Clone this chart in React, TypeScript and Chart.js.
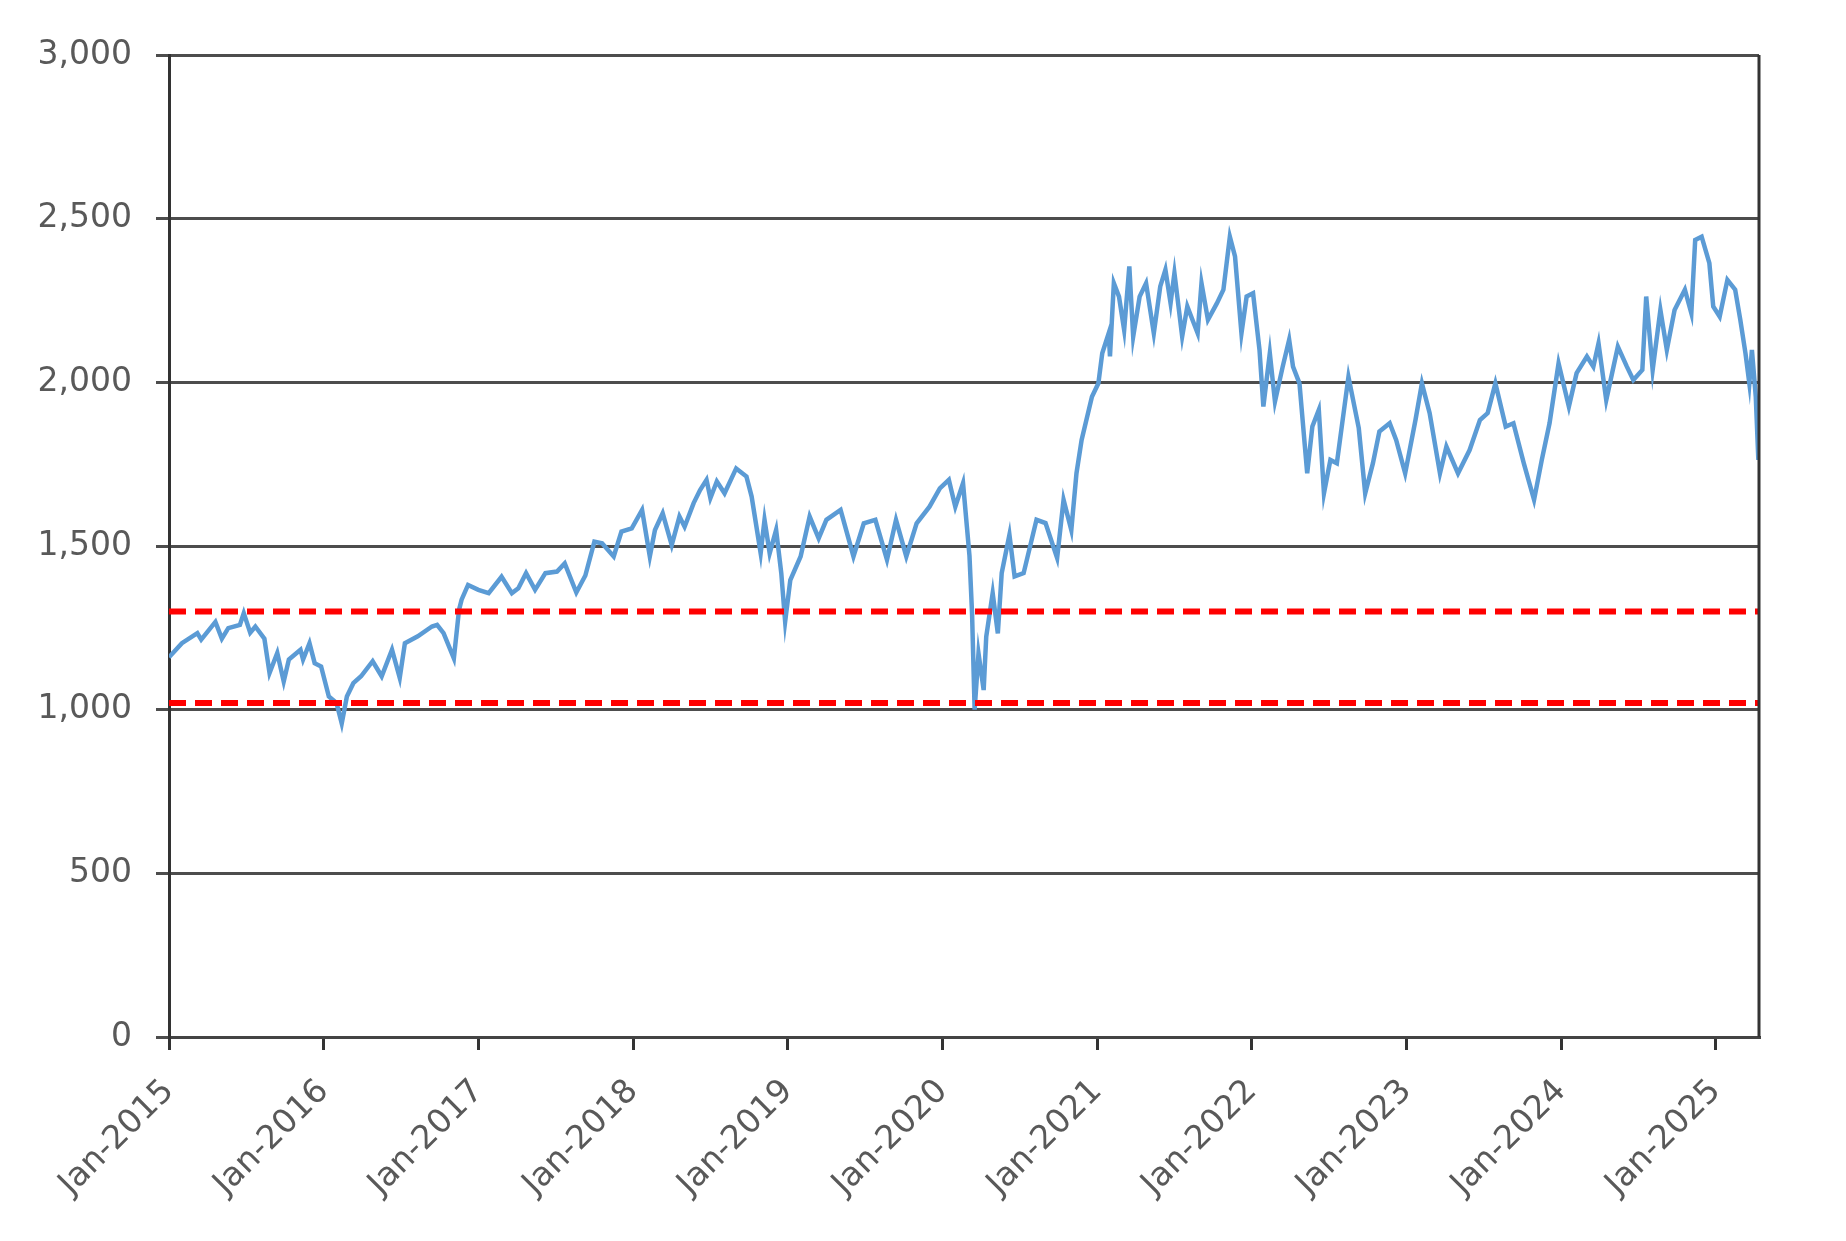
import React, { useEffect, useRef } from 'react';
import { Chart, registerables } from 'chart.js';

Chart.register(...registerables);

// months since Jan-2015
const monthOffsets = [
  0.0, 1.0, 2.2, 2.5, 3.6, 4.1, 4.6, 5.5, 5.8, 6.3, 6.7, 7.4, 7.8, 8.4, 8.9, 9.3,
  10.2, 10.4, 10.9, 11.3, 11.8, 12.4, 13.0, 13.4, 13.8, 14.3, 14.9, 15.8, 16.5,
  17.3, 17.9, 18.3, 19.3, 20.4, 20.8, 21.3, 22.1, 22.5, 22.7, 23.2, 24.0, 24.8,
  25.8, 26.6, 27.1, 27.7, 28.4, 29.2, 30.1, 30.7, 31.6, 32.3, 33.0, 33.6, 34.5,
  35.1, 35.9, 36.7, 37.3, 37.7, 38.3, 39.0, 39.6, 40.0, 40.7, 41.2, 41.7, 42.0,
  42.5, 43.1, 44.0, 44.8, 45.2, 45.9, 46.2, 46.6, 47.1, 47.5, 47.8, 48.2, 49.0,
  49.7, 50.4, 51.0, 52.1, 53.1, 53.9, 54.8, 55.7, 56.4, 57.2, 58.0, 59.0, 59.8,
  60.5, 61.0, 61.6, 61.9, 62.1, 62.3, 62.5, 62.8, 63.2, 63.4, 63.9, 64.3, 64.6,
  65.2, 65.6, 66.3, 67.3, 68.0, 68.9, 69.4, 70.0, 70.4, 70.8, 71.6, 72.1, 72.4,
  72.9, 73.0, 73.3, 73.7, 74.1, 74.5, 74.8, 75.3, 75.8, 76.4, 76.9, 77.3, 77.7,
  78.0, 78.6, 79.0, 79.8, 80.1, 80.6, 81.3, 81.8, 82.3, 82.7, 83.2, 83.6, 84.1,
  84.6, 84.9, 85.4, 85.8, 86.4, 86.9, 87.2, 87.7, 88.3, 88.7, 89.2, 89.6, 90.1,
  90.6, 91.5, 92.3, 92.8, 93.4, 93.9, 94.7, 95.2, 95.9, 96.7, 97.2, 97.8, 98.6,
  99.1, 100.0, 100.9, 101.7, 102.3, 102.9, 103.7, 104.3, 105.1, 105.9, 106.5,
  107.1, 107.8, 108.6, 109.2, 110.0, 110.5, 110.9, 111.5, 112.4, 113.1, 113.6,
  114.3, 114.6, 115.1, 115.7, 116.2, 116.8, 117.6, 118.1, 118.4, 118.9, 119.5,
  119.8, 120.3, 120.9, 121.5, 121.9, 122.3, 122.6, 122.8, 123.1, 123.3,
];

const indexValues = [
  1160, 1203, 1234, 1214, 1268, 1217, 1249, 1259, 1295, 1235, 1254, 1217, 1112, 1173, 1086, 1153,
  1183, 1153, 1203, 1142, 1132, 1040, 1020, 958, 1040, 1081, 1102, 1148, 1102,
  1183, 1097, 1203, 1224, 1254, 1259, 1234, 1157, 1305, 1336, 1381, 1366, 1356,
  1406, 1356, 1371, 1417, 1366, 1417, 1422, 1447, 1358, 1410, 1513, 1508, 1468,
  1544, 1554, 1610, 1468, 1549, 1600, 1503, 1590, 1559, 1631, 1671, 1702, 1646,
  1697, 1661, 1737, 1712, 1651, 1478, 1580, 1478, 1549, 1417, 1269, 1396, 1468,
  1590, 1523, 1580, 1610, 1468, 1569, 1580, 1458, 1580, 1468, 1569, 1620, 1676,
  1702, 1620, 1692, 1559, 1470, 1294, 1000, 1172, 1060, 1223, 1356, 1233, 1417,
  1534, 1407, 1417, 1580, 1570, 1463, 1641, 1549, 1722, 1824, 1956, 1997, 2089,
  2150, 2079, 2303, 2262, 2160, 2354, 2140, 2262, 2303, 2150, 2293, 2344, 2242,
  2334, 2140, 2232, 2150, 2303, 2191, 2242, 2283, 2445, 2385, 2150, 2262, 2272,
  2099, 1926, 2089, 1941, 2048, 2130, 2048, 1997, 1722, 1865, 1916, 1661, 1763,
  1753, 2017, 1860, 1661, 1753, 1850, 1875, 1824, 1722, 1885, 1997, 1906, 1722,
  1804, 1722, 1793, 1885, 1906, 1997, 1865, 1875, 1753, 1641, 1763,
  1875, 2058, 1926, 2028, 2079, 2048, 2119, 1946, 2109, 2048, 2007,
  2038, 2262, 2038, 2221, 2099, 2221, 2283, 2211, 2435, 2445, 2364,
  2232, 2201, 2313, 2283, 2191, 2089, 1997, 2099, 1956, 1763,
];

const upperBand = 1300;
const lowerBand = 1020;
const xStart = 0;
const xEnd = 123.35;
const yearTicks = [0, 12, 24, 36, 48, 60, 72, 84, 96, 108, 120];
const firstYear = 2015;
const yMax = 3000;
const yStep = 500;

const labelFont = { family: '"DejaVu Sans", sans-serif', size: 33 };

const rightEdge = {
  id: 'rightEdge',
  afterDraw(chart: any) {
    const { ctx, chartArea } = chart;
    ctx.save();
    ctx.strokeStyle = '#333';
    ctx.lineWidth = 3;
    ctx.beginPath();
    ctx.moveTo(chartArea.right, chartArea.top);
    ctx.lineTo(chartArea.right, chartArea.bottom);
    ctx.stroke();
    ctx.restore();
  },
};

export default function App() {
  const canvasRef = useRef<HTMLCanvasElement | null>(null);

  useEffect(() => {
    if (!canvasRef.current) return;
    const series = monthOffsets.map((m, i) => ({ x: m, y: indexValues[i] }));
    const chart = new Chart(canvasRef.current, {
      type: 'line',
      data: {
        datasets: [
          {
            data: [{ x: xStart, y: upperBand }, { x: xEnd, y: upperBand }],
            borderColor: '#FF0000',
            borderWidth: 6,
            borderDash: [17, 9],
            pointRadius: 0,
            order: 0,
          },
          {
            data: [{ x: xStart, y: lowerBand }, { x: xEnd, y: lowerBand }],
            borderColor: '#FF0000',
            borderWidth: 6,
            borderDash: [17, 9],
            pointRadius: 0,
            order: 0,
          },
          {
            data: series,
            borderColor: '#5B9BD5',
            borderWidth: 4.5,
            pointRadius: 0,
            tension: 0,
            order: 1,
          },
        ],
      },
      options: {
        animation: false,
        responsive: true,
        maintainAspectRatio: false,
        layout: { padding: { top: 47, right: 79, bottom: 0, left: 0 } },
        plugins: { legend: { display: false }, tooltip: { enabled: false } },
        scales: {
          x: {
            type: 'linear',
            min: xStart,
            max: xEnd,
            afterBuildTicks: (scale: any) => {
              scale.ticks = yearTicks.map((v) => ({ value: v }));
            },
            afterFit: (scale: any) => {
              scale.height = 195;
            },
            ticks: {
              autoSkip: false,
              maxRotation: 45,
              minRotation: 45,
              padding: 22,
              color: '#595959',
              font: labelFont,
              callback: (v: any) => 'Jan-' + (firstYear + Math.round(Number(v) / 12)),
            },
            grid: {
              drawOnChartArea: false,
              drawTicks: true,
              tickLength: 13,
              tickColor: '#333',
              lineWidth: 3,
            },
            border: { color: '#444', width: 3 },
          },
          y: {
            min: 0,
            max: yMax,
            afterFit: (scale: any) => {
              scale.width = 161;
            },
            ticks: {
              stepSize: yStep,
              padding: 24,
              color: '#595959',
              font: labelFont,
              callback: (v: any) => Number(v).toLocaleString('en-US'),
            },
            grid: {
              color: '#4d4d4d',
              lineWidth: 3,
              tickLength: 13,
              tickColor: '#4d4d4d',
            },
            border: { color: '#333', width: 3 },
          },
        },
      },
      plugins: [rightEdge],
    });
    return () => chart.destroy();
  }, []);

  return (
    <div style={{ width: '100%', height: 1224 }}>
      <canvas ref={canvasRef} />
    </div>
  );
}
